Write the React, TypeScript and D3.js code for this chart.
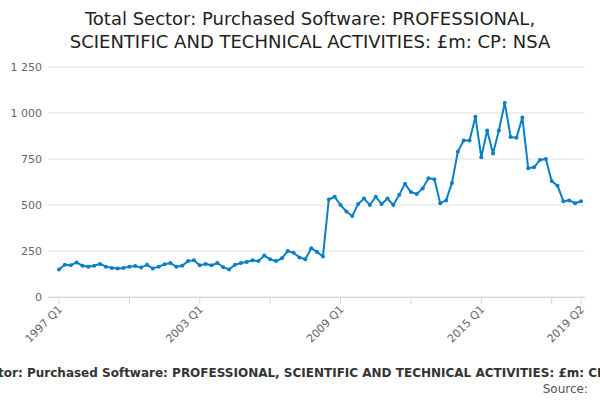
import React, { useRef, useEffect } from 'react';
import * as d3 from 'd3';

const years = d3.range(1997, 2020);
const quarters = years.flatMap(y => [1, 2, 3, 4].map(q => `${y} Q${q}`)).slice(0, 90);
const values = [
  150, 175, 172, 188, 170, 165, 170, 180, 165, 158, 155, 158,
  165, 168, 160, 175, 155, 165, 178, 185, 165, 170, 195, 200,
  172, 180, 172, 185, 162, 150, 175, 185, 190, 200, 195, 225,
  205, 195, 210, 250, 240, 215, 205, 265, 245, 220, 530, 545,
  500, 465, 440, 505, 535, 500, 545, 505, 535, 500, 555, 615,
  570, 560, 590, 645, 640, 510, 525, 620, 790, 850, 850, 980,
  760, 905, 780, 905, 1055, 870, 865, 975, 700, 705, 745, 750,
  630, 605, 520, 525, 510, 520,
];
const yTicks = [0, 250, 500, 750, 1000, 1250];
const xLabels = ['1997 Q1', '2003 Q1', '2009 Q1', '2015 Q1', '2019 Q2'];
const title = ['Total Sector: Purchased Software: PROFESSIONAL,', 'SCIENTIFIC AND TECHNICAL ACTIVITIES: £m: CP: NSA'];
const caption = 'Total Sector: Purchased Software: PROFESSIONAL, SCIENTIFIC AND TECHNICAL ACTIVITIES: £m: CP: NSA';

export default function App() {
  const ref = useRef<SVGSVGElement>(null);
  useEffect(() => {
    const svg = d3.select(ref.current);
    svg.selectAll('*').remove();
    const font = 'DejaVu Sans, sans-serif';
    const x = d3.scalePoint<string>().domain(quarters).range([59, 581]);
    const y = d3.scaleLinear().domain([0, 1250]).range([297, 67]);

    const t = svg.append('g').attr('font-family', font).attr('font-size', 18).attr('fill', '#222').attr('text-anchor', 'middle');
    title.forEach((s, i) => t.append('text').attr('x', 310).attr('y', 25 + i * 23).text(s));

    const grid = svg.append('g');
    yTicks.forEach(v => {
      grid.append('line').attr('x1', 48).attr('x2', 585).attr('y1', y(v)).attr('y2', y(v))
        .attr('stroke', '#e0e0e0');
      grid.append('text').attr('x', 42).attr('y', y(v) + 4).attr('text-anchor', 'end')
        .attr('font-family', font).attr('font-size', 11).attr('fill', '#666')
        .text(d3.format(',')(v).replace(',', ' '));
    });

    const ax = svg.append('g');
    ax.append('line').attr('x1', 48).attr('x2', 585).attr('y1', 297.5).attr('y2', 297.5).attr('stroke', '#ccd6eb');
    quarters.forEach((q, i) => {
      if (i % 12 === 0 || i === quarters.length - 1) {
        ax.append('line').attr('x1', x(q)!).attr('x2', x(q)!).attr('y1', 297).attr('y2', 304).attr('stroke', '#ccd6eb');
      }
    });
    xLabels.forEach(l => {
      const px = x(l)!;
      ax.append('text').attr('transform', `translate(${px + 4},${310}) rotate(-45)`)
        .attr('text-anchor', 'end').attr('font-family', font).attr('font-size', 11).attr('fill', '#666').text(l);
    });

    const line = d3.line<number>().x((_, i) => x(quarters[i])!).y(d => y(d));
    svg.append('path').datum(values).attr('d', line).attr('fill', 'none').attr('stroke', '#0a7fc4').attr('stroke-width', 2);
    svg.append('g').selectAll('circle').data(values).join('circle')
      .attr('cx', (_, i) => x(quarters[i])!).attr('cy', d => y(d)).attr('r', 2).attr('fill', '#0a7fc4');

    svg.append('text').attr('x', 290).attr('y', 377).attr('text-anchor', 'middle').attr('font-family', font)
      .attr('font-size', 12).attr('font-weight', 'bold').attr('fill', '#333').text(caption);
    svg.append('text').attr('x', 588).attr('y', 393).attr('text-anchor', 'end').attr('font-family', font)
      .attr('font-size', 12).attr('fill', '#555').text('Source:');
  }, []);
  return <svg ref={ref} width={600} height={400} style={{ position: 'absolute', left: 0, top: 0, background: '#fff' }} />;
}
